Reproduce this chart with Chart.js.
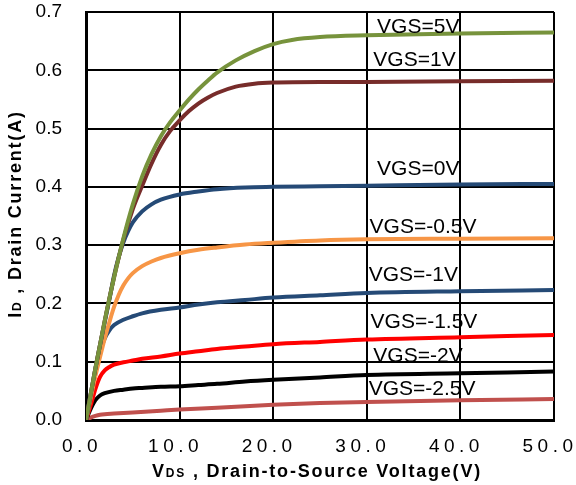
<!DOCTYPE html>
<html><head><meta charset="utf-8">
<script src="https://cdn.jsdelivr.net/npm/chart.js@4.4.1/dist/chart.umd.min.js"></script>
<style>html,body{margin:0;padding:0;background:#fff}#wrap{width:576px;height:485px;position:relative}</style>
</head><body><div id="wrap"><canvas id="c"></canvas></div>
<script>
// ---- data ----
const seriesNames = ['VGS=5V','VGS=1V','VGS=0V','VGS=-0.5V','VGS=-1V','VGS=-1.5V','VGS=-2V','VGS=-2.5V'];
const seriesColors = ['#77933C','#772C2A','#254A76','#F79646','#254A76','#FF0000','#000000','#C0504D'];

const vds5   = [0, 1, 2, 3, 4, 5, 6, 7, 8, 9, 10, 11, 12, 13, 14, 16, 18, 20, 22, 25, 30, 40, 50];
const id5    = [0, 0.088, 0.170, 0.245, 0.312, 0.370, 0.418, 0.456, 0.487, 0.511, 0.531, 0.550, 0.567, 0.582, 0.596, 0.617, 0.633, 0.645, 0.652, 0.657, 0.660, 0.663, 0.665];
const vds1   = [0, 1, 2, 3, 4, 5, 6, 7, 8, 9, 10, 11, 12, 13, 14, 16, 18, 20, 25, 30, 40, 50];
const id1    = [0, 0.088, 0.170, 0.245, 0.310, 0.362, 0.402, 0.440, 0.472, 0.496, 0.514, 0.530, 0.543, 0.553, 0.561, 0.572, 0.577, 0.579, 0.580, 0.580, 0.581, 0.582];
const vds0   = [0, 1, 2, 2.5, 3, 3.5, 4, 4.5, 5, 6, 7, 8, 10, 12, 14, 17, 20, 25, 30, 40, 50];
const id0    = [0, 0.088, 0.168, 0.207, 0.248, 0.280, 0.305, 0.324, 0.339, 0.358, 0.370, 0.378, 0.387, 0.392, 0.396, 0.399, 0.400, 0.401, 0.402, 0.404, 0.405];
const vdsM05 = [0, 1, 1.5, 2, 2.5, 3, 3.5, 4, 4.5, 5, 6, 7, 8, 10, 12, 14, 17, 20, 25, 30, 40, 50];
const idM05  = [0, 0.075, 0.108, 0.140, 0.168, 0.194, 0.215, 0.231, 0.243, 0.252, 0.264, 0.272, 0.278, 0.286, 0.292, 0.296, 0.301, 0.304, 0.308, 0.310, 0.311, 0.312];
const vdsM1  = [0, 0.5, 1, 1.5, 2, 2.5, 3, 4, 5, 6, 8, 10, 12, 14, 17, 20, 25, 30, 40, 50];
const idM1   = [0, 0.040, 0.082, 0.117, 0.140, 0.154, 0.163, 0.172, 0.178, 0.183, 0.189, 0.193, 0.198, 0.202, 0.206, 0.210, 0.214, 0.218, 0.221, 0.223];
const vdsM15 = [0, 0.5, 1, 1.5, 2, 2.5, 3, 4, 5, 6, 8, 10, 12, 14, 17, 20, 25, 30, 40, 50];
const idM15  = [0, 0.025, 0.053, 0.074, 0.085, 0.091, 0.095, 0.099, 0.102, 0.105, 0.109, 0.114, 0.118, 0.122, 0.126, 0.130, 0.134, 0.138, 0.142, 0.146];
const vdsM2  = [0, 0.5, 1, 1.5, 2, 3, 4, 5, 6, 8, 10, 12, 14, 17, 20, 25, 30, 40, 50];
const idM2   = [0, 0.019, 0.034, 0.042, 0.046, 0.050, 0.052, 0.054, 0.055, 0.057, 0.058, 0.060, 0.062, 0.066, 0.069, 0.073, 0.077, 0.080, 0.083];
const vdsM25 = [0, 0.5, 1, 1.5, 2, 3, 5, 8, 10, 14, 20, 25, 30, 40, 50];
const idM25  = [0, 0.004, 0.007, 0.009, 0.010, 0.011, 0.013, 0.016, 0.018, 0.021, 0.026, 0.029, 0.031, 0.034, 0.036];

const seriesX = [vds5, vds1, vds0, vdsM05, vdsM1, vdsM15, vdsM2, vdsM25];
const seriesY = [id5, id1, id0, idM05, idM1, idM15, idM2, idM25];

// curve label anchors (data coordinates)
const labelX = [31.1, 30.7, 31.1, 30.3, 30.2, 30.4, 30.7, 30.2];
const labelY = [0.674, 0.617, 0.430, 0.331, 0.249, 0.168, 0.110, 0.053];

const xTicksStep = 10, xMin = 0, xMax = 50;
const yTicksStep = 0.1, yMin = 0, yMax = 0.7;
const xTitle = [['V','big'],['DS','small'],[' , Drain-to-Source Voltage(V)','big']];
const yTitle = [['I','big'],['D','small'],[' , Drain Current(A)','big']];

// ---- chart ----
const FAM = '"Liberation Sans", Arial, sans-serif';
Chart.defaults.font.family = FAM;
Chart.defaults.color = '#000';

function drawMixed(ctx, segs, cx, baseY, spacing) {
  const fonts = {big: 'bold 18px ' + FAM, small: 'bold 12px ' + FAM};
  ctx.letterSpacing = spacing;
  let total = 0;
  const widths = segs.map(s => { ctx.font = fonts[s[1]]; const w = ctx.measureText(s[0]).width; total += w; return w; });
  let x = cx - total / 2;
  ctx.textAlign = 'left'; ctx.textBaseline = 'alphabetic';
  segs.forEach((s, i) => { ctx.font = fonts[s[1]]; ctx.fillText(s[0], x, baseY); x += widths[i]; });
}

const annot = {
  id: 'annot',
  beforeDraw(chart) {
    const sx = chart.scales.x;
    if (!sx._lsWrapped) {
      const orig = sx.drawLabels;
      sx.drawLabels = function (a) { const c = this.ctx; c.save(); c.letterSpacing = '4.5px'; orig.call(this, a); c.restore(); };
      sx._lsWrapped = true;
    }
  },
  afterDraw(chart) {
    const ctx = chart.ctx, sx = chart.scales.x, sy = chart.scales.y;
    ctx.save();
    ctx.fillStyle = '#000';
    ctx.font = '21px ' + FAM;
    ctx.textAlign = 'left'; ctx.textBaseline = 'middle';
    seriesNames.forEach((t, i) => ctx.fillText(t, sx.getPixelForValue(labelX[i]), sy.getPixelForValue(labelY[i])));
    drawMixed(ctx, xTitle, 317, 477, '1.8px');
    ctx.save();
    ctx.translate(21, 214);
    ctx.rotate(-Math.PI / 2);
    drawMixed(ctx, yTitle, 0, 0, '1.8px');
    ctx.restore();
    ctx.restore();
  }
};

new Chart(document.getElementById('c'), {
  type: 'line',
  data: {
    datasets: seriesNames.map((n, i) => ({
      label: n,
      data: seriesX[i].map((x, j) => ({x: x, y: seriesY[i][j]})),
      borderColor: seriesColors[i],
      backgroundColor: seriesColors[i],
      borderWidth: 4,
      pointRadius: 0,
      fill: false,
      cubicInterpolationMode: 'monotone'
    }))
  },
  options: {
    responsive: true,
    maintainAspectRatio: false,
    animation: false,
    layout: {padding: {top: 12, right: 22, left: 0, bottom: 0}},
    plugins: {legend: {display: false}, tooltip: {enabled: false}},
    scales: {
      x: {
        type: 'linear', min: xMin, max: xMax,
        ticks: {stepSize: xTicksStep, callback: v => v.toFixed(1), font: {size: 19}, color: '#000', padding: 15, labelOffset: -4, maxRotation: 0, autoSkip: false},
        grid: {color: '#000', lineWidth: 2, drawTicks: false},
        border: {color: '#000', width: 3},
        afterFit: s => { s.height = 65; s.paddingLeft = 0; s.paddingRight = 0; }
      },
      y: {
        type: 'linear', min: yMin, max: yMax,
        ticks: {stepSize: yTicksStep, callback: v => v.toFixed(1), font: {size: 19}, color: '#000', padding: 24},
        grid: {color: '#000', lineWidth: 2, drawTicks: false},
        border: {color: '#000', width: 3},
        afterFit: s => { s.width = 86; s.paddingTop = 0; s.paddingBottom = 0; }
      }
    }
  },
  plugins: [annot]
});
</script>
</body></html>
